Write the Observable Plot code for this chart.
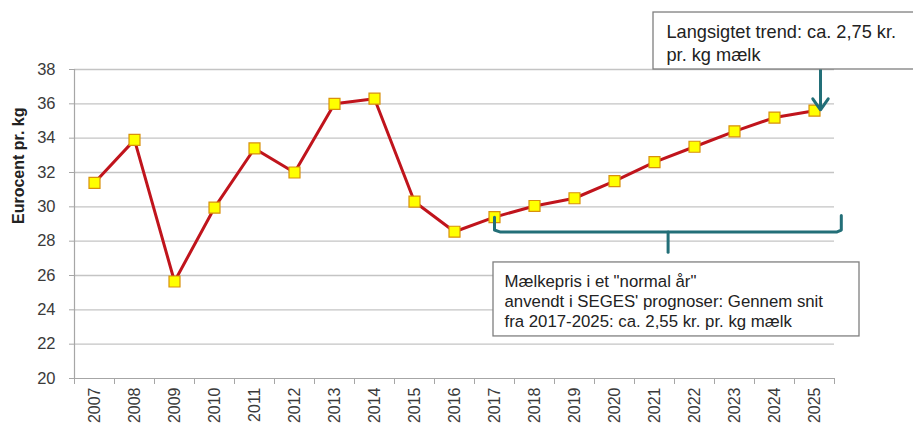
<!DOCTYPE html>
<html>
<head>
<meta charset="utf-8">
<script src="https://cdn.jsdelivr.net/npm/d3@7"></script>
<script src="https://cdn.jsdelivr.net/npm/@observablehq/plot@0.6"></script>
<style>
  html, body { margin: 0; padding: 0; background: #fff; overflow: hidden; }
  #chart svg { display: block; }
</style>
</head>
<body>
<div id="chart"></div>
<script>
// ---- data ----
const years = [2007, 2008, 2009, 2010, 2011, 2012, 2013, 2014, 2015, 2016,
               2017, 2018, 2019, 2020, 2021, 2022, 2023, 2024, 2025];
const prices = [31.4, 33.9, 25.65, 29.95, 33.4, 32.0, 36.0, 36.3, 30.3, 28.55,
                29.4, 30.05, 30.5, 31.5, 32.6, 33.5, 34.4, 35.2, 35.6];
const yTicks = [20, 22, 24, 26, 28, 30, 32, 34, 36, 38];
const yTitle = "Eurocent pr. kg";

// annotations (in data coordinates: x = year, y = eurocent)
const trendText = "Langsigtet trend: ca. 2,75 kr.\npr. kg mælk";
const normalText = "Mælkepris i et \"normal år\"\nanvendt i SEGES' prognoser: Gennem snit\nfra 2017-2025: ca. 2,55 kr. pr. kg mælk";
const trendBox = [{x1: 2020.975, x2: 2027.6, y1: 38.0, y2: 41.32}];
const trendLabel = [{x: 2021.3, y: 39.6}];
const trendArrow = [{x1: 2025.15, y1: 38.0, x2: 2025.15, y2: 35.65}];
const normalBox = [{x1: 2016.975, x2: 2026.125, y1: 22.45, y2: 26.76}];
const normalLabel = [{x: 2017.25, y: 24.55}];
const bracePath = [
  {x: 2017.0, y: 29.4}, {x: 2017.0, y: 28.65}, {x: 2017.15, y: 28.53},
  {x: 2025.55, y: 28.53}, {x: 2025.67, y: 28.65}, {x: 2025.67, y: 29.5}
];
const braceStem = [{x: 2021.34, y: 28.53}, {x: 2021.34, y: 27.36}];

const data = years.map((yr, i) => ({year: yr, price: prices[i]}));
const bounds = years.map(y => y - 0.5).concat([years[years.length - 1] + 0.5]);

const font = "'Liberation Sans', Arial, sans-serif";
const teal = "#236f78";

const chart = Plot.plot({
  width: 913,
  height: 428,
  marginLeft: 74,
  marginRight: 79,
  marginTop: 69,
  marginBottom: 50,
  style: {fontFamily: font, background: "#fff", overflow: "visible"},
  x: {domain: [bounds[0], bounds[bounds.length - 1]], axis: null},
  y: {domain: [20, 38], axis: null},
  marks: [
    Plot.gridY(yTicks.slice(1), {stroke: "#c4c4c4", strokeOpacity: 1, strokeWidth: 1.3}),
    Plot.ruleY([20], {stroke: "#a6a6a6", strokeWidth: 1.2}),
    Plot.ruleX([bounds[0]], {y1: 20, y2: 38, stroke: "#a6a6a6", strokeWidth: 1.2}),
    Plot.axisY({ticks: yTicks, tickSize: 5, tickPadding: 14, fontSize: 16.5,
                stroke: "#a6a6a6", color: "#3a3a3a", label: null, tickFormat: d => String(d)}),
    Plot.axisX({ticks: bounds, tickSize: 6, tickFormat: () => "", stroke: "#a6a6a6", label: null}),
    Plot.axisX({ticks: years, tickSize: 0, tickPadding: 9, tickRotate: -90, fontSize: 16,
                color: "#3a3a3a", label: null, tickFormat: d => String(d)}),
    Plot.text([yTitle], {frameAnchor: "left", dx: -56, rotate: -90, fontSize: 16,
                         fontWeight: "bold", fill: "#222"}),
    Plot.line(data, {x: "year", y: "price", stroke: "#c0141c", strokeWidth: 3}),
    Plot.dot(data, {x: "year", y: "price", symbol: "square", r: 6.2,
                    fill: "#ffff00", stroke: "#d8900c", strokeWidth: 1.2}),
    // brace
    Plot.line(bracePath, {x: "x", y: "y", stroke: teal, strokeWidth: 3, strokeLinejoin: "round", strokeLinecap: "round"}),
    Plot.line(braceStem, {x: "x", y: "y", stroke: teal, strokeWidth: 3}),
    // normal-year box
    Plot.rect(normalBox, {x1: "x1", x2: "x2", y1: "y1", y2: "y2", fill: "#fff", stroke: "#7f7f7f", strokeWidth: 1.3}),
    Plot.text(normalLabel, {x: "x", y: "y", text: () => normalText, textAnchor: "start",
                            lineAnchor: "middle", lineHeight: 1.2, fontSize: 16.8, fill: "#222"}),
    // trend box + arrow
    Plot.arrow(trendArrow, {x1: "x1", y1: "y1", x2: "x2", y2: "y2", stroke: teal, strokeWidth: 3,
                            headLength: 12, headAngle: 70}),
    Plot.rect(trendBox, {x1: "x1", x2: "x2", y1: "y1", y2: "y2", fill: "#fff", stroke: "#7f7f7f", strokeWidth: 1.3}),
    Plot.text(trendLabel, {x: "x", y: "y", text: () => trendText, textAnchor: "start",
                           lineAnchor: "middle", lineHeight: 1.25, fontSize: 18.2, fill: "#222"})
  ]
});
document.getElementById("chart").appendChild(chart);
</script>
</body>
</html>
